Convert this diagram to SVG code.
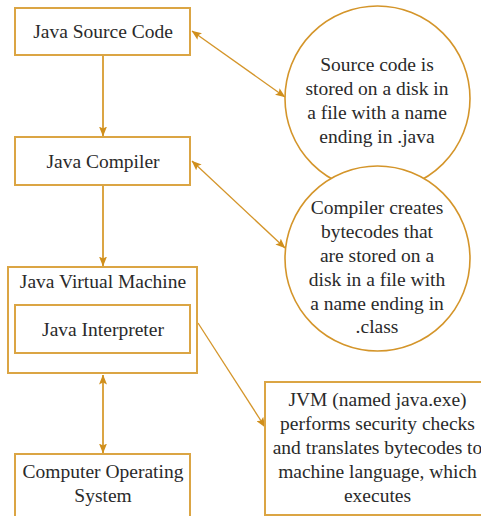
<svg xmlns="http://www.w3.org/2000/svg" width="481" height="516" viewBox="0 0 481 516">
<defs>
<style>
.box{fill:#fff;stroke:#dba544;stroke-width:2}
.circ{fill:#fff;stroke:#d4952a;stroke-width:1.6}
text{font-family:'Liberation Serif','Times New Roman','DejaVu Serif',serif;font-size:19.5px;fill:#2a2a2a;text-anchor:middle}
.v{stroke:#dba544;stroke-width:2;fill:none}
.d{stroke:#d4952a;stroke-width:1.3;fill:none}
</style>
<marker id="ah" viewBox="0 0 10 8" refX="9.5" refY="4" markerWidth="10" markerHeight="8" markerUnits="userSpaceOnUse" orient="auto-start-reverse">
<path d="M0,0 L10,4 L0,8 L2,4 Z" fill="#d08f1c"/>
</marker>
</defs>
<rect width="481" height="516" fill="#fff"/>
<g id="connectors">
<line class="v" x1="103" y1="55" x2="103" y2="136" marker-end="url(#ah)"/>
<line class="v" x1="103" y1="185" x2="103" y2="266" marker-end="url(#ah)"/>
<line class="v" x1="103" y1="375" x2="103" y2="453" marker-start="url(#ah)" marker-end="url(#ah)"/>
<line class="d" x1="192" y1="31" x2="285" y2="97" marker-start="url(#ah)" marker-end="url(#ah)"/>
<line class="d" x1="192" y1="161" x2="285" y2="248" marker-start="url(#ah)" marker-end="url(#ah)"/>
<line class="d" x1="198" y1="323" x2="265" y2="427" marker-end="url(#ah)"/>
</g>
<g id="source">
<rect class="box" x="15" y="8" width="175" height="47"/>
<text x="103" y="38">Java Source Code</text>
</g>
<g id="compiler">
<rect class="box" x="15" y="137" width="175" height="48"/>
<text x="103" y="168">Java Compiler</text>
</g>
<g id="jvm">
<rect class="box" x="8" y="267" width="189" height="106"/>
<text x="103" y="288">Java Virtual Machine</text>
</g>
<g id="interpreter">
<rect class="box" x="15" y="305" width="175" height="48"/>
<text x="103" y="336">Java Interpreter</text>
</g>
<g id="os">
<rect class="box" x="15" y="454" width="175" height="80"/>
<text x="103" y="478">Computer Operating</text>
<text x="103" y="502">System</text>
</g>
<g id="note1">
<circle class="circ" cx="377.5" cy="98.5" r="92.5"/>
<text x="377" y="71">Source code is</text>
<text x="377" y="95">stored on a disk in</text>
<text x="377" y="119">a file with a name</text>
<text x="377" y="143">ending in .java</text>
</g>
<g id="note2">
<circle class="circ" cx="377.5" cy="258.5" r="92.5"/>
<text x="377" y="214">Compiler creates</text>
<text x="377" y="238">bytecodes that</text>
<text x="377" y="262">are stored on a</text>
<text x="377" y="286">disk in a file with</text>
<text x="377" y="310">a name ending in</text>
<text x="377" y="333">.class</text>
</g>
<g id="note3">
<rect class="box" x="265" y="382" width="240" height="133"/>
<text x="377.5" y="406">JVM (named java.exe)</text>
<text x="377.5" y="430">performs security checks</text>
<text x="377.5" y="454">and translates bytecodes to</text>
<text x="377.5" y="478">machine language, which</text>
<text x="377.5" y="502">executes</text>
</g>
</svg>
